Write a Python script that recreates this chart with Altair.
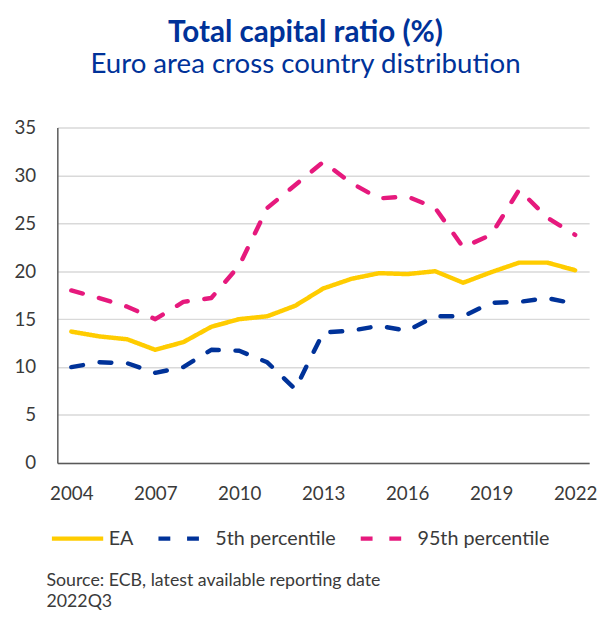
import altair as alt
import pandas as pd

years = list(range(2004, 2023))
ea = [13.7, 13.2, 12.9, 11.8, 12.6, 14.2, 15.0, 15.3, 16.4, 18.2, 19.2, 19.8, 19.7, 20.0, 18.8, 19.9, 20.9, 20.9, 20.1]
p5 = [10.0, 10.5, 10.4, 9.4, 10.0, 11.8, 11.7, 10.5, 7.7, 13.6, 13.8, 14.3, 13.8, 15.3, 15.3, 16.7, 16.8, 17.2, 16.6]
p95 = [18.0, 17.2, 16.3, 15.0, 16.8, 17.2, 20.6, 26.6, 29.0, 31.4, 29.2, 27.6, 27.8, 26.6, 22.5, 23.8, 28.5, 25.6, 23.8]

series_names = ["EA", "5th percentile", "95th percentile"]
series_colors = ["#FFCC00", "#003299", "#E6197D"]
series_dashes = [[1, 0], [12, 17], [12, 17]]

title_text = "Total capital ratio (%)"
subtitle_text = "Euro area cross country distribution"
source_lines = ["Source: ECB, latest available reporting date", "2022Q3"]

x_ticks = [2004, 2007, 2010, 2013, 2016, 2019, 2022]
y_ticks = [0, 5, 10, 15, 20, 25, 30, 35]

rows = []
for name, vals in zip(series_names, [ea, p5, p95]):
    for yr, v in zip(years, vals):
        rows.append({"year": yr, "value": v, "series": name})
df = pd.DataFrame(rows)

FONT = "Lato"
TXT = "#3a3a3a"

lines = alt.Chart(df).mark_line(strokeWidth=4.5, strokeCap="round", strokeJoin="round").encode(
    x=alt.X(
        "year:Q",
        scale=alt.Scale(domain=[2003.5, 2022.5], nice=False, zero=False),
        axis=alt.Axis(
            values=x_ticks, format="d", title=None, grid=False, ticks=False,
            domain=True, domainColor="#595959", domainWidth=1.5,
            labelFont=FONT, labelFontSize=19, labelColor=TXT,
            labelBaseline="alphabetic", labelPadding=37,
        ),
    ),
    y=alt.Y(
        "value:Q",
        scale=alt.Scale(domain=[0, 35], nice=False),
        axis=alt.Axis(
            values=y_ticks, title=None, grid=True, gridColor="#d9d9d9", gridWidth=1.5,
            ticks=False, domain=True, domainColor="#595959", domainWidth=1.5,
            labelFont=FONT, labelFontSize=19, labelColor=TXT, labelPadding=22,
        ),
    ),
    color=alt.Color(
        "series:N",
        scale=alt.Scale(domain=series_names, range=series_colors),
        legend=alt.Legend(title=None),
    ),
    strokeDash=alt.StrokeDash(
        "series:N",
        scale=alt.Scale(domain=series_names, range=series_dashes),
        legend=alt.Legend(title=None),
    ),
)

src = alt.Chart(pd.DataFrame({"t": ["\n".join(source_lines)]})).mark_text(
    align="left", baseline="alphabetic", lineBreak="\n", lineHeight=21,
    font=FONT, fontSize=18, color=TXT,
).encode(x=alt.value(-11), y=alt.value(465), text="t:N")

chart = alt.layer(lines, src).properties(
    width=539,
    height=340,
    autosize=alt.AutoSizeParams(type="none"),
    padding={"left": 50, "top": 117, "right": 10, "bottom": 146},
    title=alt.TitleParams(
        text=title_text, subtitle=subtitle_text,
        font=FONT, fontSize=30, fontWeight="bold", color="#003299",
        subtitleFont=FONT, subtitleFontSize=28, subtitleColor="#003299",
        anchor="middle", frame="group", dx=-18, offset=40, subtitlePadding=4,
    ),
).configure_view(stroke=None).configure_legend(
    orient="none", legendX=-8, legendY=388, direction="horizontal",
    symbolType="stroke", symbolSize=2704, symbolStrokeWidth=4.5,
    labelFont=FONT, labelFontSize=20, labelColor=TXT, labelOffset=3,
    columnPadding=15, padding=0,
)

chart.save("out.html", embed_options={"renderer": "svg", "actions": False})
